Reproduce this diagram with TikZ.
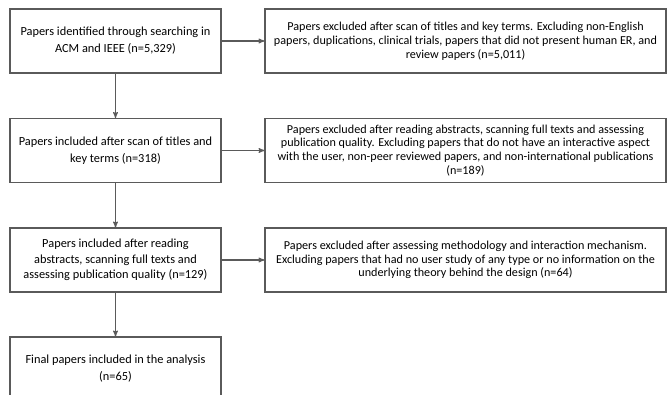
\documentclass[tikz,border=0pt]{standalone}
\usepackage{fontspec}
\setmainfont{Carlito}
\usetikzlibrary{arrows,positioning}
\definecolor{linjegraa}{HTML}{5A5A5A}
\tikzset{
    >=stealth',
    boks/.style={
           rectangle,
           draw=linjegraa, line width=1.1pt,
           minimum height=64pt,
           inner sep=0pt,
           align=center},
    venstre/.style={
           boks,
           minimum width=211pt,
           font=\fontsize{12.35pt}{17pt}\selectfont},
    hoejre/.style={
           boks,
           minimum width=401pt,
           font=\fontsize{12.15pt}{13.8pt}\selectfont},
    pil/.style={
           ->,
           draw=linjegraa, line width=1.1pt}
}

\begin{document}
\begin{tikzpicture}[x=1pt,y=1pt]
          \def \vx {115.5}
          \def \hx {465.5}
          \useasboundingbox (0,0) rectangle (667,394);
          \clip (0,0) rectangle (667,394);
          \node[venstre](ident) at (\vx,353) {Papers identified through searching in\\ACM and IEEE (n=5,329)};
          \node[venstre](incl) at (\vx,243.5) {Papers included after scan of titles and\\key terms (n=318)};
          \node[venstre, font=\fontsize{12.35pt}{15.4pt}\selectfont](qual) at (\vx,134) {Papers included after reading\\abstracts, scanning full texts and\\assessing publication quality (n=129)};
          \node[venstre](final) at (\vx,25) {Final papers included in the analysis\\(n=65)};
          \node[hoejre](exscan) at (\hx,353) {Papers excluded after scan of titles and key terms. Excluding non-English\\papers, duplications, clinical trials, papers that did not present human ER, and\\review papers (n=5,011)};
          \node[hoejre](exqual) at (\hx,243.5) {Papers excluded after reading abstracts, scanning full texts and assessing\\publication quality. Excluding papers that do not have an interactive aspect\\with the user, non-peer reviewed papers, and non-international publications\\(n=189)};
          \node[hoejre](exmeth) at (\hx,134) {Papers excluded after assessing methodology and interaction mechanism.\\Excluding papers that had no user study of any type or no information on the\\underlying theory behind the design (n=64)};
          \draw[pil] (ident) -- (incl);
          \draw[pil] (incl) -- (qual);
          \draw[pil] (qual) -- (final);
          \draw[pil] (ident) -- (exscan);
          \draw[pil] (incl) -- (exqual);
          \draw[pil] (qual) -- (exmeth);
         \end{tikzpicture}
\end{document}
